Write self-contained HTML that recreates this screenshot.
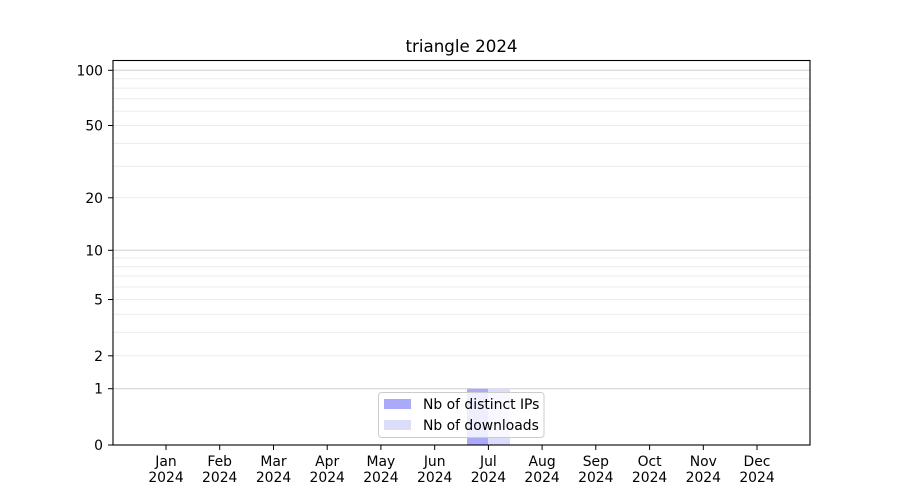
<!DOCTYPE html>
<html><head><meta charset="utf-8"><style>
html,body{margin:0;padding:0;background:#fff;}
svg{display:block;font-family:"DejaVu Sans","Liberation Sans",sans-serif;}
</style></head><body>
<svg width="900" height="500" viewBox="0 0 900 500" xmlns="http://www.w3.org/2000/svg">
<rect width="900" height="500" fill="#fff"/>
<!-- minor grid -->
<g stroke="#ebebeb" stroke-width="1">
<line x1="113" x2="810" y1="355.8" y2="355.8"/>
<line x1="113" x2="810" y1="332.4" y2="332.4"/>
<line x1="113" x2="810" y1="314.3" y2="314.3"/>
<line x1="113" x2="810" y1="299.5" y2="299.5"/>
<line x1="113" x2="810" y1="287" y2="287"/>
<line x1="113" x2="810" y1="276" y2="276"/>
<line x1="113" x2="810" y1="266.6" y2="266.6"/>
<line x1="113" x2="810" y1="258" y2="258"/>
<line x1="113" x2="810" y1="197.8" y2="197.8"/>
<line x1="113" x2="810" y1="166.2" y2="166.2"/>
<line x1="113" x2="810" y1="143.4" y2="143.4"/>
<line x1="113" x2="810" y1="125.5" y2="125.5"/>
<line x1="113" x2="810" y1="111.1" y2="111.1"/>
<line x1="113" x2="810" y1="98.8" y2="98.8"/>
<line x1="113" x2="810" y1="88.1" y2="88.1"/>
<line x1="113" x2="810" y1="78.7" y2="78.7"/>
</g>
<!-- major grid -->
<g stroke="#cfcfcf" stroke-width="1">
<line x1="113" x2="810" y1="388.7" y2="388.7"/>
<line x1="113" x2="810" y1="250.3" y2="250.3"/>
<line x1="113" x2="810" y1="70.3" y2="70.3"/>
</g>
<!-- bars -->
<rect x="467" y="388.7" width="21" height="56.3" fill="#aaaaf8"/>
<rect x="488" y="388.7" width="22" height="56.3" fill="#dcdcfb"/>
<!-- legend -->
<rect x="378.5" y="392.5" width="165.5" height="45" rx="3" ry="3" fill="#fff" fill-opacity="0.8" stroke="#cccccc" stroke-width="1"/>
<rect x="384" y="399" width="27" height="10" fill="#aaaaf8"/>
<rect x="384" y="420" width="27" height="10" fill="#dcdcfb"/>
<g font-size="13.9" fill="#000">
<text x="423" y="409">Nb of distinct IPs</text>
<text x="423" y="430">Nb of downloads</text>
</g>
<!-- axes frame -->
<rect x="113" y="60.5" width="697" height="384.5" fill="none" stroke="#000" stroke-width="1.1"/>
<!-- y ticks -->
<g stroke="#000" stroke-width="1">
<line x1="108" x2="113" y1="445" y2="445"/>
<line x1="108" x2="113" y1="388.7" y2="388.7"/>
<line x1="108" x2="113" y1="355.8" y2="355.8"/>
<line x1="108" x2="113" y1="299.5" y2="299.5"/>
<line x1="108" x2="113" y1="250.3" y2="250.3"/>
<line x1="108" x2="113" y1="197.8" y2="197.8"/>
<line x1="108" x2="113" y1="125.5" y2="125.5"/>
<line x1="108" x2="113" y1="70.3" y2="70.3"/>
</g>
<g font-size="13.9" fill="#000" text-anchor="end">
<text x="103" y="450">0</text>
<text x="103" y="393.7">1</text>
<text x="103" y="360.8">2</text>
<text x="103" y="304.5">5</text>
<text x="103" y="255.3">10</text>
<text x="103" y="202.8">20</text>
<text x="103" y="130.5">50</text>
<text x="103" y="75.3">100</text>
</g>
<!-- x ticks -->
<g stroke="#000" stroke-width="1">
<line x1="166" x2="166" y1="445" y2="450"/>
<line x1="219.7" x2="219.7" y1="445" y2="450"/>
<line x1="273.5" x2="273.5" y1="445" y2="450"/>
<line x1="327.2" x2="327.2" y1="445" y2="450"/>
<line x1="380.9" x2="380.9" y1="445" y2="450"/>
<line x1="434.7" x2="434.7" y1="445" y2="450"/>
<line x1="488.4" x2="488.4" y1="445" y2="450"/>
<line x1="542.1" x2="542.1" y1="445" y2="450"/>
<line x1="595.8" x2="595.8" y1="445" y2="450"/>
<line x1="649.6" x2="649.6" y1="445" y2="450"/>
<line x1="703.3" x2="703.3" y1="445" y2="450"/>
<line x1="757" x2="757" y1="445" y2="450"/>
</g>
<g font-size="13.9" fill="#000" text-anchor="middle">
<text x="166" y="466">Jan</text><text x="166" y="482">2024</text>
<text x="219.7" y="466">Feb</text><text x="219.7" y="482">2024</text>
<text x="273.5" y="466">Mar</text><text x="273.5" y="482">2024</text>
<text x="327.2" y="466">Apr</text><text x="327.2" y="482">2024</text>
<text x="380.9" y="466">May</text><text x="380.9" y="482">2024</text>
<text x="434.7" y="466">Jun</text><text x="434.7" y="482">2024</text>
<text x="488.4" y="466">Jul</text><text x="488.4" y="482">2024</text>
<text x="542.1" y="466">Aug</text><text x="542.1" y="482">2024</text>
<text x="595.8" y="466">Sep</text><text x="595.8" y="482">2024</text>
<text x="649.6" y="466">Oct</text><text x="649.6" y="482">2024</text>
<text x="703.3" y="466">Nov</text><text x="703.3" y="482">2024</text>
<text x="757" y="466">Dec</text><text x="757" y="482">2024</text>
</g>
<text x="461.5" y="52" font-size="16.7" text-anchor="middle" fill="#000">triangle 2024</text>
</svg>
</body></html>
